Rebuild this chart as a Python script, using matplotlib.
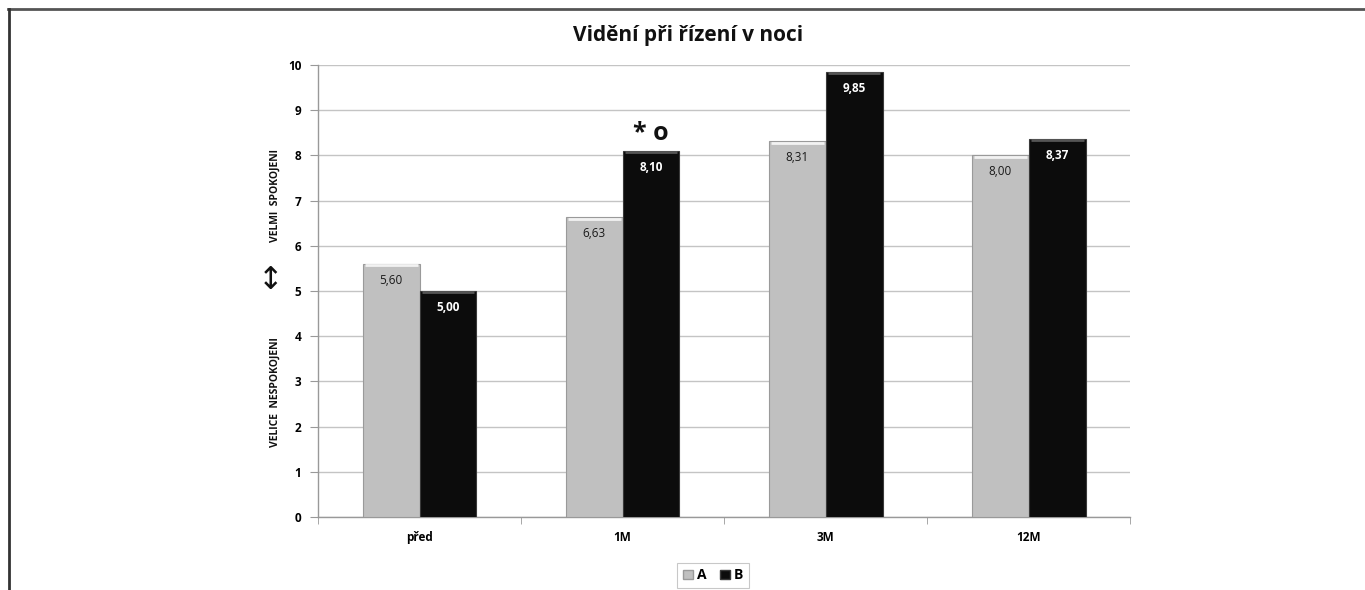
import numpy as np
import matplotlib.pyplot as plt
from matplotlib.lines import Line2D
from matplotlib.patches import Patch

plt.rcParams['font.family'] = ['Open Sans', 'DejaVu Sans']

# Data
categories = ["před", "1M", "3M", "12M"]
values_a = [5.60, 6.63, 8.31, 8.00]
values_b = [5.00, 8.10, 9.85, 8.37]
labels_a = ["5,60", "6,63", "8,31", "8,00"]
labels_b = ["5,00", "8,10", "9,85", "8,37"]
series_names = ["A", "B"]

fig = plt.figure(figsize=(13.65, 5.9), dpi=100)
ax = fig.add_axes([0.233, 0.1237, 0.595, 0.766])

x = np.arange(len(categories))
w = 0.28
bars_a = ax.bar(x - w / 2, values_a, w, color="#c0c0c0", edgecolor="#9a9a9a", linewidth=0.8, zorder=3)
bars_b = ax.bar(x + w / 2, values_b, w, color="#0c0c0c", edgecolor="#3a3a3a", linewidth=0.8, zorder=3)

# slight bevel on top of bars
for b in bars_a:
    ax.plot([b.get_x() + 0.01, b.get_x() + b.get_width() - 0.01], [b.get_height() - 0.03] * 2,
            color="#f2f2f2", lw=2, zorder=4, solid_capstyle="butt")
for b in bars_b:
    ax.plot([b.get_x() + 0.01, b.get_x() + b.get_width() - 0.01], [b.get_height() - 0.03] * 2,
            color="#555555", lw=2, zorder=4, solid_capstyle="butt")

for xi, v, t in zip(x - w / 2, values_a, labels_a):
    ax.text(xi, v - 0.36, t, ha="center", va="center", fontsize=8.5, color="#1a1a1a", zorder=5)
for xi, v, t in zip(x + w / 2, values_b, labels_b):
    ax.text(xi, v - 0.36, t, ha="center", va="center", fontsize=8.5, color="white",
            fontweight="bold", zorder=5)

# significance mark above 1M B
ax.text(1 + w / 2, values_b[1] + 0.12, "* o", ha="center", va="bottom", fontsize=18,
        fontweight="bold", color="#111111", zorder=5)

ax.set_xlim(-0.5, 3.5)
ax.set_ylim(0, 10)
ax.set_yticks(range(0, 11))
ax.set_xticks(x)
ax.set_xticklabels(categories, fontsize=8.5, fontweight="bold")
ax.set_xticks(np.arange(-0.5, 3.6, 1), minor=True)
ax.tick_params(axis="x", which="major", length=0, pad=10)
ax.tick_params(axis="x", which="minor", length=5, color="#999999", direction="out")
ax.tick_params(axis="y", length=6, color="#999999", labelsize=8.5, pad=6)
for lab in ax.get_yticklabels():
    lab.set_fontweight("bold")

ax.grid(axis="y", color="#c4c4c4", lw=1, zorder=0)
ax.set_axisbelow(True)
for s in ["top", "right"]:
    ax.spines[s].set_visible(False)
for s in ["left", "bottom"]:
    ax.spines[s].set_color("#999999")
    ax.spines[s].set_linewidth(1)

fig.text(0.504, 0.94, "Vidění při řízení v noci", ha="center", va="center",
         fontsize=15, fontweight="bold", color="#111111")

fig.text(0.2015, 0.669, "VELMI  SPOKOJENI", rotation=90, ha="center", va="center",
         fontsize=7.5, fontweight="bold", color="#111111")
fig.text(0.2015, 0.335, "VELICE  NESPOKOJENI", rotation=90, ha="center", va="center",
         fontsize=7.5, fontweight="bold", color="#111111")
fig.text(0.1985, 0.524, "↕", ha="center", va="center", fontsize=22,
         family="DejaVu Sans", color="#111111")

handles = [Patch(facecolor="#c0c0c0", edgecolor="#9a9a9a"),
           Patch(facecolor="#0c0c0c", edgecolor="#3a3a3a")]
leg = fig.legend(handles, series_names, loc="center", bbox_to_anchor=(0.5225, 0.025),
                 ncol=2, frameon=True, fontsize=10, handlelength=0.7, handleheight=0.7,
                 columnspacing=1.0, handletextpad=0.3, borderpad=0.4, fancybox=False)
leg.get_frame().set_edgecolor("#bbbbbb")
leg.get_frame().set_linewidth(0.8)
for t in leg.get_texts():
    t.set_fontweight("bold")

# outer frame (top and left)
fig.add_artist(Line2D([8 / 1365, 1.0], [1 - 9 / 590] * 2, color="#555555", lw=2))
fig.add_artist(Line2D([9 / 1365] * 2, [0.0, 1 - 9 / 590], color="#333333", lw=2))

fig.savefig("out.png", dpi=100)
